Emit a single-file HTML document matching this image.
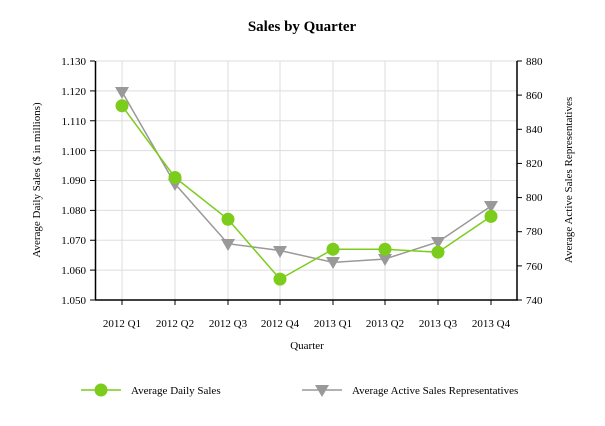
<!DOCTYPE html>
<html><head><style>body{margin:0;background:#fff}svg{display:block;font-family:"Liberation Serif",serif}</style></head>
<body>
<svg width="605" height="426" viewBox="0 0 605 426">
<text x="302" y="31" text-anchor="middle" font-size="15" font-weight="bold">Sales by Quarter</text>
<g stroke="#ddd" stroke-width="1">
<line x1="96" x2="517" y1="90.9" y2="90.9"/><line x1="96" x2="517" y1="120.75" y2="120.75"/><line x1="96" x2="517" y1="150.6" y2="150.6"/><line x1="96" x2="517" y1="180.5" y2="180.5"/><line x1="96" x2="517" y1="210.4" y2="210.4"/><line x1="96" x2="517" y1="240.25" y2="240.25"/><line x1="96" x2="517" y1="270.1" y2="270.1"/><line x1="96" x2="517" y1="61" y2="61"/>
<line x1="122" x2="122" y1="61" y2="300"/><line x1="175" x2="175" y1="61" y2="300"/><line x1="228" x2="228" y1="61" y2="300"/><line x1="280" x2="280" y1="61" y2="300"/><line x1="333" x2="333" y1="61" y2="300"/><line x1="385" x2="385" y1="61" y2="300"/><line x1="438" x2="438" y1="61" y2="300"/><line x1="491" x2="491" y1="61" y2="300"/>
</g>
<g stroke="#000" stroke-width="1.5" fill="none">
<line x1="95.5" x2="95.5" y1="61" y2="300"/><line x1="517" x2="517" y1="61" y2="300"/><line x1="95" x2="518" y1="300" y2="300"/>
</g>
<g stroke="#000" stroke-width="1">
<line x1="90" x2="95" y1="61" y2="61"/><line x1="90" x2="95" y1="90.9" y2="90.9"/><line x1="90" x2="95" y1="120.75" y2="120.75"/><line x1="90" x2="95" y1="150.6" y2="150.6"/><line x1="90" x2="95" y1="180.5" y2="180.5"/><line x1="90" x2="95" y1="210.4" y2="210.4"/><line x1="90" x2="95" y1="240.25" y2="240.25"/><line x1="90" x2="95" y1="270.1" y2="270.1"/><line x1="90" x2="95" y1="300" y2="300"/>
<line x1="517" x2="522" y1="61" y2="61"/><line x1="517" x2="522" y1="95.1" y2="95.1"/><line x1="517" x2="522" y1="129.3" y2="129.3"/><line x1="517" x2="522" y1="163.4" y2="163.4"/><line x1="517" x2="522" y1="197.6" y2="197.6"/><line x1="517" x2="522" y1="231.7" y2="231.7"/><line x1="517" x2="522" y1="265.9" y2="265.9"/><line x1="517" x2="522" y1="300" y2="300"/>
<line x1="122" x2="122" y1="300" y2="305"/><line x1="175" x2="175" y1="300" y2="305"/><line x1="228" x2="228" y1="300" y2="305"/><line x1="280" x2="280" y1="300" y2="305"/><line x1="333" x2="333" y1="300" y2="305"/><line x1="385" x2="385" y1="300" y2="305"/><line x1="438" x2="438" y1="300" y2="305"/><line x1="491" x2="491" y1="300" y2="305"/>
</g>
<g font-size="11" text-anchor="end">
<text x="86" y="65">1.130</text><text x="86" y="95">1.120</text><text x="86" y="125">1.110</text><text x="86" y="155">1.100</text><text x="86" y="184">1.090</text><text x="86" y="214">1.080</text><text x="86" y="244">1.070</text><text x="86" y="274">1.060</text><text x="86" y="304">1.050</text>
</g>
<g font-size="11">
<text x="526" y="65">880</text><text x="526" y="99">860</text><text x="526" y="133">840</text><text x="526" y="167">820</text><text x="526" y="201">800</text><text x="526" y="235">780</text><text x="526" y="270">760</text><text x="526" y="304">740</text>
</g>
<g font-size="11" text-anchor="middle">
<text x="122" y="327">2012 Q1</text><text x="175" y="327">2012 Q2</text><text x="228" y="327">2012 Q3</text><text x="280" y="327">2012 Q4</text><text x="333" y="327">2013 Q1</text><text x="385" y="327">2013 Q2</text><text x="438" y="327">2013 Q3</text><text x="491" y="327">2013 Q4</text>
<text x="307" y="349">Quarter</text>
<text transform="translate(40,180) rotate(-90)">Average Daily Sales ($ in millions)</text>
<text transform="translate(572,180) rotate(-90)">Average Active Sales Representatives</text>
</g>
<polyline fill="none" stroke="#999" stroke-width="1.5" points="122,91.7 175,183.9 228,243.7 280,250.5 333,262.4 385,259 438,242 491,206.1"/>
<g fill="#999">
<path d="M115,87 h14 l-7,12z" transform="translate(0,0)"/>
<path d="M168,179 h14 l-7,12z"/><path d="M221,239 h14 l-7,12z"/><path d="M273,246 h14 l-7,12z"/><path d="M326,257 h14 l-7,12z"/><path d="M378,254 h14 l-7,12z"/><path d="M431,237 h14 l-7,12z"/><path d="M484,201 h14 l-7,12z"/>
</g>
<polyline fill="none" stroke="#7ccc1c" stroke-width="1.5" points="122,105.8 175,177.5 228,219.3 280,279.1 333,249.2 385,249.2 438,252.2 491,216.4"/>
<g fill="#7ccc1c">
<circle cx="122" cy="105.8" r="6.5"/><circle cx="175" cy="177.5" r="6.5"/><circle cx="228" cy="219.3" r="6.5"/><circle cx="280" cy="279.1" r="6.5"/><circle cx="333" cy="249.2" r="6.5"/><circle cx="385" cy="249.2" r="6.5"/><circle cx="438" cy="252.2" r="6.5"/><circle cx="491" cy="216.4" r="6.5"/>
</g>
<line x1="81" x2="121" y1="390" y2="390" stroke="#7ccc1c" stroke-width="1.5"/>
<circle cx="101" cy="390" r="6.5" fill="#7ccc1c"/>
<text x="131" y="394" font-size="11">Average Daily Sales</text>
<line x1="302" x2="342" y1="390" y2="390" stroke="#999" stroke-width="1.5"/>
<path d="M315,385 h14 l-7,12z" fill="#999"/>
<text x="352" y="394" font-size="11">Average Active Sales Representatives</text>
</svg>
</body></html>
